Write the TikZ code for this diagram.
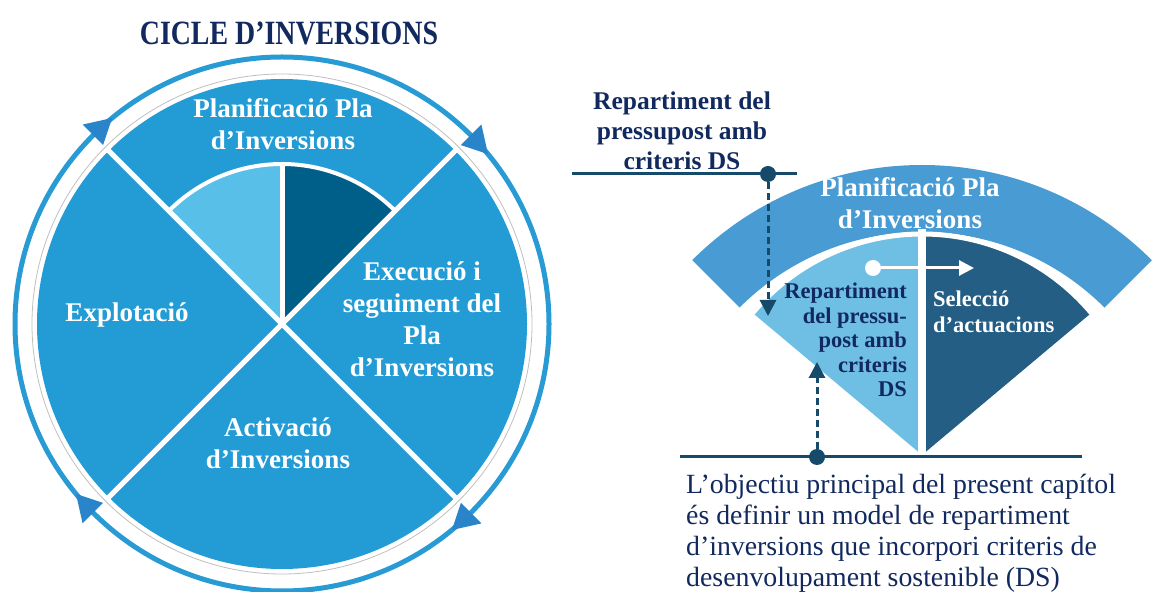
\documentclass[tikz,border=0pt]{standalone}
\usepackage{fontspec}
\setmainfont{Liberation Serif}
\newfontfamily\titolfont[FakeStretch=0.82]{Liberation Serif}
\usetikzlibrary{arrows.meta}

\definecolor{blauFosc}{RGB}{17,41,94}
\definecolor{traç}{RGB}{22,74,106}
\definecolor{blauCercle}{RGB}{35,156,214}
\definecolor{blauCercleClar}{RGB}{88,192,232}
\definecolor{blauCercleFosc}{RGB}{0,95,137}
\definecolor{blauAnell}{RGB}{40,154,212}
\definecolor{blauFletxa}{RGB}{42,132,202}
\definecolor{blauBanda}{RGB}{73,155,211}
\definecolor{blauFalcaClar}{RGB}{111,190,228}
\definecolor{blauFalcaFosc}{RGB}{37,94,133}

\begin{document}
\begin{tikzpicture}[x=1pt,y=1pt,line join=round,
    etiqueta/.style={text=white,font=\fontsize{27}{32}\selectfont\bfseries,align=center,inner sep=0pt},
    petita/.style={font=\fontsize{22.5}{24.5}\selectfont\bfseries,inner sep=0pt},
    punt/.style={circle,fill,inner sep=0pt,minimum size=16pt},
    linia/.style={traç,line width=3pt},
    discont/.style={traç,line width=3pt,dash pattern=on 7pt off 4pt,
      -{Triangle[length=16pt,width=16pt]}}]

  \useasboundingbox (0,0) rectangle (1152,592);

  % ---- cicle d'inversions -------------------------------------------------
  \node[font=\titolfont\fontsize{34}{40}\selectfont\bfseries,text=blauFosc] (titol) at (289,559) {CICLE D’INVERSIONS};

  \coordinate (c) at (282,268);
  \draw[blauAnell,line width=5pt] (c) circle[radius=267];
  \draw[black!25,line width=0.8pt] (c) circle[radius=250];
  \fill[blauCercle] (c) circle[radius=245];

  \fill[blauCercleClar] (c) -- ([shift={(90:160)}]c) arc[start angle=90,end angle=135,radius=160] -- cycle;
  \fill[blauCercleFosc] (c) -- ([shift={(45:160)}]c) arc[start angle=45,end angle=90,radius=160] -- cycle;
  \draw[white,line width=4pt] ([shift={(45:160)}]c) arc[start angle=45,end angle=135,radius=160];
  \draw[white,line width=5pt] (c) -- ([shift={(90:160)}]c);
  \foreach \a in {45,135,225,315}
    \draw[white,line width=5pt] (c) -- ([shift={(\a:248)}]c);

  % puntes de fletxa sobre l'anell
  \foreach \a in {45,135,225,315}
    \fill[blauFletxa] ([shift={(\a:253)}]c) -- ([shift={(\a:282)}]c) -- ([shift={(\a-5.5:267)}]c) -- cycle;

  \node[etiqueta] (planif) at (283,468) {Planificació Pla\\d’Inversions};
  \node[etiqueta] (execucio) at (422,273) {Execució i\\seguiment del\\Pla\\d’Inversions};
  \node[etiqueta] (explot) at (127,277) {Explotació};
  \node[etiqueta] (activ) at (278,149) {Activació\\d’Inversions};

  % ---- detall de la planificacio ------------------------------------------
  \coordinate (ab) at (922,102);
  \coordinate (af) at (922,137);
  \fill[blauBanda] ([shift={(45:258)}]ab) arc[start angle=45,end angle=135,radius=258]
    -- ([shift={(135:325)}]ab) arc[start angle=135,end angle=45,radius=325] -- cycle;
  \fill[blauFalcaClar] (af) -- ([shift={(90:219)}]af) arc[start angle=90,end angle=140,radius=219] -- cycle;
  \fill[blauFalcaFosc] (af) -- ([shift={(40:219)}]af) arc[start angle=40,end angle=90,radius=219] -- cycle;
  \draw[white,line width=5pt] ([shift={(40:221)}]af) arc[start angle=40,end angle=140,radius=221];
  \draw[white,line width=8pt] (af) -- ([shift={(90:226)}]af);

  \node[etiqueta] (planif2) at (910,389) {Planificació Pla\\d’Inversions};

  \node[petita,text=blauFosc,align=right,anchor=north east] (repart) at (907,309)
    {Repartiment\\del pressu-\\post amb\\criteris\\DS};
  \node[petita,text=white,align=left,anchor=north west] (selec) at (933,301)
    {Selecció\\[1.5pt]d’actuacions};

  \node[punt,white] (pb) at (873,324) {};
  \coordinate (fb) at (974,324);
  \draw[white,line width=3pt,-{Triangle[length=15pt,width=15pt]}] (pb) -- (fb);

  % ---- capçalera i text ---------------------------------------------------
  \node[font=\fontsize{25.5}{30}\selectfont\bfseries,text=blauFosc,align=center] (capc) at (682,461)
    {Repartiment del\\pressupost amb\\criteris DS};
  \coordinate (l1a) at (572,418);
  \coordinate (l1b) at (797,418);
  \draw[linia] (l1a) -- (l1b);
  \node[punt,traç] (p1) at (768,418) {};
  \coordinate (f1) at (768,276);
  \draw[discont] (p1) -- (f1);

  \coordinate (l2a) at (680,135);
  \coordinate (l2b) at (1082,135);
  \draw[linia] (l2a) -- (l2b);
  \node[punt,traç] (p2) at (817,135) {};
  \coordinate (f2) at (817,230);
  \draw[discont] (p2) -- (f2);

  \node[font=\fontsize{27.8}{31}\selectfont,text=blauFosc,align=left,anchor=north west,inner sep=0pt] (objectiu) at (686,118)
    {L’objectiu principal del present capítol\\és definir un model de repartiment\\d’inversions que incorpori criteris de\\desenvolupament sostenible (DS)};

\end{tikzpicture}
\end{document}
